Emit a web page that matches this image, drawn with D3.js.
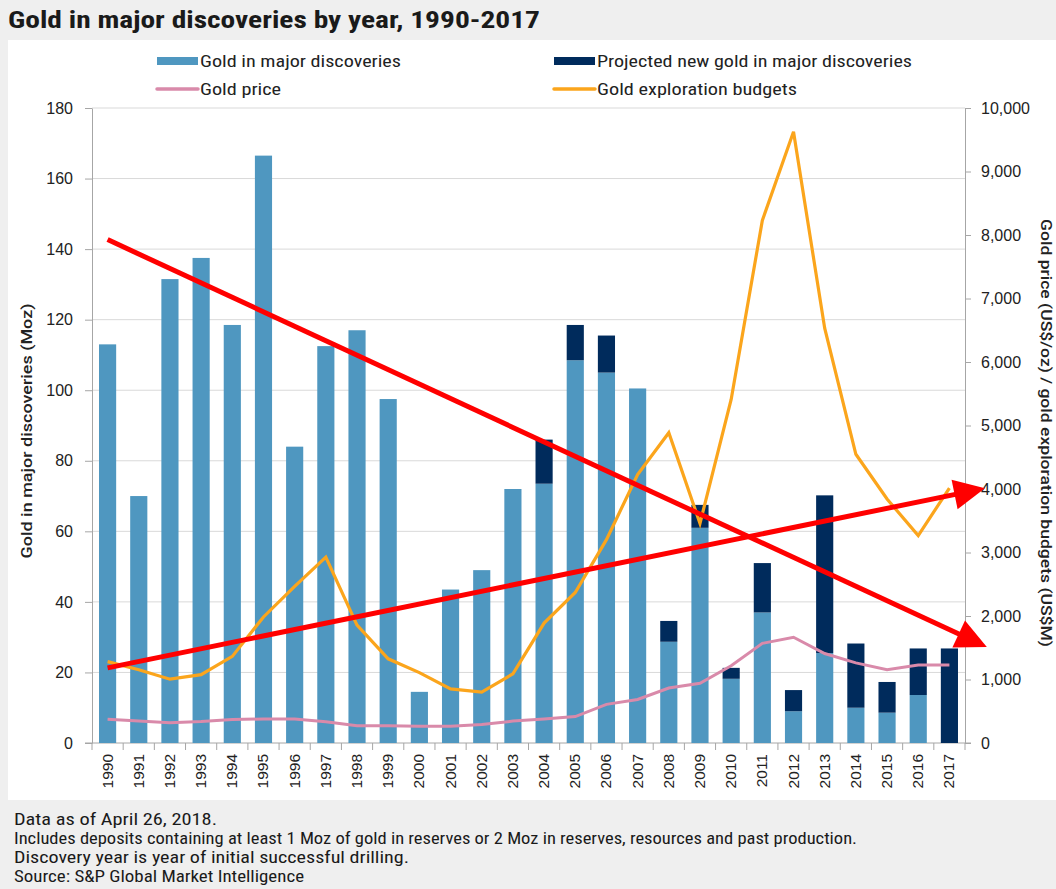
<!DOCTYPE html>
<html>
<head>
<meta charset="utf-8">
<script src="https://cdn.jsdelivr.net/npm/d3@7"></script>
<style>
  body { margin: 0; background: #efefef; }
  svg { display: block; }
</style>
</head>
<body>
<script>
// categories
const years = ["1990","1991","1992","1993","1994","1995","1996","1997","1998","1999",
  "2000","2001","2002","2003","2004","2005","2006","2007","2008","2009",
  "2010","2011","2012","2013","2014","2015","2016","2017"];

// Moz, left axis
const goldDiscovered = [113, 70, 131.5, 137.5, 118.5, 166.5, 84, 112.5, 117, 97.5,
  14.5, 43.5, 49, 72, 73.5, 108.5, 105, 100.5, 28.7, 61,
  18.2, 37, 9, 25.5, 10, 8.6, 13.6, 0];
const goldProjected = [0, 0, 0, 0, 0, 0, 0, 0, 0, 0,
  0, 0, 0, 0, 12.5, 10, 10.5, 0, 5.9, 6.5,
  3.1, 14, 6, 44.7, 18.2, 8.7, 13.2, 26.8];

// right axis
const goldPrice = [375, 345, 320, 340, 371, 378, 378, 335, 272, 270,
  265, 265, 290, 345, 378, 416, 608, 685, 865, 941,
  1217, 1569, 1665, 1409, 1262, 1153, 1230, 1230];
const explorationBudget = [1281, 1153, 1005, 1076, 1364, 1985, 2466, 2927, 1857, 1326,
  1108, 852, 801, 1089, 1889, 2370, 3202, 4227, 4886, 3458,
  5411, 8229, 9625, 6532, 4547, 3842, 3266, 4015];

const leftTicks = [0, 20, 40, 60, 80, 100, 120, 140, 160, 180];
const rightTicks = [0, 1000, 2000, 3000, 4000, 5000, 6000, 7000, 8000, 9000, 10000];

// red annotation arrows, in (year, Moz) units
const arrowDown = [{ year: 1990, moz: 142.7 }, { year: 2018.2, moz: 27.2 }];
const arrowUp = [{ year: 1990, moz: 21.3 }, { year: 2018.14, moz: 72.2 }];

const footNotes = [
  { text: "Data as of April 26, 2018.", w: 203 },
  { text: "Includes deposits containing at least 1 Moz of gold in reserves or 2 Moz in reserves, resources and past production.", w: 843 },
  { text: "Discovery year is year of initial successful drilling.", w: 395 },
  { text: "Source: S&P Global Market Intelligence", w: 290 }
];

const width = 1056, height = 889;
const margin = { top: 108, right: 91, bottom: 146, left: 92 };

const colLight = "#4f97c0", colDark = "#002b5c", colPink = "#d98aaa", colOrange = "#fba51c";
const condensed = "'Liberation Sans Narrow', 'Roboto Condensed', 'Roboto', sans-serif";
const plain = "'Liberation Sans', Arial, sans-serif";

const svg = d3.select("body").append("svg")
    .attr("width", width)
    .attr("height", height);

svg.append("rect").attr("width", width).attr("height", height).attr("fill", "#efefef");
svg.append("rect").attr("x", 8).attr("y", 40).attr("width", width - 8).attr("height", 760).attr("fill", "#fff");

// title
svg.append("text")
    .attr("x", 8).attr("y", 28)
    .attr("font-family", condensed).attr("font-size", 23).attr("font-weight", "bold")
    .attr("fill", "#1a1a1a")
    .attr("textLength", 532).attr("lengthAdjust", "spacingAndGlyphs")
    .text("Gold in major discoveries by year, 1990-2017");

const x = d3.scaleBand()
    .domain(years)
    .range([margin.left, width - margin.right])
    .paddingInner(0.45)
    .paddingOuter(0.225);

const yL = d3.scaleLinear().domain([0, 180]).range([height - margin.bottom, margin.top]);
const yR = d3.scaleLinear().domain([0, 10000]).range([height - margin.bottom, margin.top]);

const xYear = d3.scaleLinear()
    .domain([1990, 2017])
    .range([x("1990") + x.bandwidth() / 2, x("2017") + x.bandwidth() / 2]);

// grid
svg.append("g")
    .selectAll("line")
    .data(leftTicks.filter(d => d > 0))
    .join("line")
    .attr("x1", margin.left).attr("x2", width - margin.right)
    .attr("y1", d => yL(d)).attr("y2", d => yL(d))
    .attr("stroke", "#d9d9d9").attr("stroke-width", 1);

// axes
const leftAxis = svg.append("g")
    .attr("transform", `translate(${margin.left},0)`)
    .call(d3.axisLeft(yL).tickValues(leftTicks).tickSize(7).tickSizeOuter(0).tickPadding(12));
const rightAxis = svg.append("g")
    .attr("transform", `translate(${width - margin.right},0)`)
    .call(d3.axisRight(yR).tickValues(rightTicks).tickSize(6).tickSizeOuter(0).tickPadding(10)
        .tickFormat(d3.format(",")));

[leftAxis, rightAxis].forEach(a => {
    a.select(".domain").attr("stroke", "#a6a6a6");
    a.selectAll(".tick line").attr("stroke", "#a6a6a6");
    a.selectAll(".tick text").attr("font-family", plain).attr("font-size", 16).attr("fill", "#222");
});

// bottom axis with boundary ticks
const bottom = svg.append("g");
const step = x.step();
const edges = years.map(d => x(d) - (step - x.bandwidth()) / 2).concat([width - margin.right]);
bottom.append("line")
    .attr("x1", margin.left - 7).attr("x2", width - margin.right + 6)
    .attr("y1", yL(0)).attr("y2", yL(0))
    .attr("stroke", "#a6a6a6");
bottom.selectAll("line.edge")
    .data(edges)
    .join("line")
    .attr("class", "edge")
    .attr("x1", d => d).attr("x2", d => d)
    .attr("y1", yL(0)).attr("y2", yL(0) + 7)
    .attr("stroke", "#a6a6a6");
bottom.selectAll("text")
    .data(years)
    .join("text")
    .attr("transform", d => `translate(${x(d) + x.bandwidth() / 2 + 5},${yL(0) + 11}) rotate(-90)`)
    .attr("text-anchor", "end")
    .attr("font-family", plain).attr("font-size", 15.5).attr("fill", "#222")
    .text(d => d);

// bars
svg.append("g")
    .selectAll("rect")
    .data(years)
    .join("rect")
    .attr("x", d => x(d))
    .attr("width", x.bandwidth())
    .attr("y", (d, i) => yL(goldDiscovered[i]))
    .attr("height", (d, i) => yL(0) - yL(goldDiscovered[i]))
    .attr("fill", colLight);

svg.append("g")
    .selectAll("rect")
    .data(years)
    .join("rect")
    .attr("x", d => x(d))
    .attr("width", x.bandwidth())
    .attr("y", (d, i) => yL(goldDiscovered[i] + goldProjected[i]))
    .attr("height", (d, i) => yL(goldDiscovered[i]) - yL(goldDiscovered[i] + goldProjected[i]))
    .attr("fill", colDark);

// lines
const lineR = d3.line()
    .x((d, i) => x(years[i]) + x.bandwidth() / 2)
    .y(d => yR(d));

svg.append("path")
    .datum(goldPrice)
    .attr("d", lineR)
    .attr("fill", "none").attr("stroke", colPink).attr("stroke-width", 3);

svg.append("path")
    .datum(explorationBudget)
    .attr("d", lineR)
    .attr("fill", "none").attr("stroke", colOrange).attr("stroke-width", 3.2);

// axis titles
svg.append("text")
    .attr("transform", `translate(32,431) rotate(-90)`)
    .attr("text-anchor", "middle")
    .attr("font-family", "Roboto, sans-serif").attr("font-size", 15).attr("font-weight", 500).attr("fill", "#222")
    .attr("textLength", 255).attr("lengthAdjust", "spacingAndGlyphs")
    .text("Gold in major discoveries (Moz)");

svg.append("text")
    .attr("transform", `translate(1041,433) rotate(90)`)
    .attr("text-anchor", "middle")
    .attr("font-family", "Roboto, sans-serif").attr("font-size", 15).attr("font-weight", 500).attr("fill", "#222")
    .attr("textLength", 428).attr("lengthAdjust", "spacingAndGlyphs")
    .text("Gold price (US$/oz) / gold exploration budgets (US$M)");

// legend
const legendItems = [
    { label: "Gold in major discoveries", type: "rect", color: colLight, col: 0, row: 0, w: 201 },
    { label: "Projected new gold in major discoveries", type: "rect", color: colDark, col: 1, row: 0, w: 315 },
    { label: "Gold price", type: "line", color: colPink, col: 0, row: 1, w: 81 },
    { label: "Gold exploration budgets", type: "line", color: colOrange, col: 1, row: 1, w: 200 }
];
const legend = svg.append("g")
    .selectAll("g")
    .data(legendItems)
    .join("g")
    .attr("transform", d => `translate(${d.col ? 554 : 157},${d.row ? 89 : 61})`);
legend.filter(d => d.type === "rect").append("rect")
    .attr("x", 0).attr("y", -4).attr("width", 41).attr("height", 8)
    .attr("fill", d => d.color);
legend.filter(d => d.type === "line").append("line")
    .attr("x1", 0).attr("x2", 41).attr("y1", 0).attr("y2", 0)
    .attr("stroke", d => d.color).attr("stroke-width", 3.5).attr("stroke-linecap", "round");
legend.append("text")
    .attr("x", 43).attr("y", 5.5)
    .attr("font-family", condensed).attr("font-size", 16).attr("fill", "#222")
    .attr("textLength", d => d.w).attr("lengthAdjust", "spacingAndGlyphs")
    .text(d => d.label);

// red arrows
function drawArrow(pts) {
    const p0 = [xYear(pts[0].year), yL(pts[0].moz)];
    const p1 = [xYear(pts[1].year), yL(pts[1].moz)];
    const dx = p1[0] - p0[0], dy = p1[1] - p0[1];
    const len = Math.hypot(dx, dy);
    const ux = dx / len, uy = dy / len;
    const headLen = 31, headHalf = 15;
    const base = [p1[0] - ux * headLen, p1[1] - uy * headLen];
    svg.append("line")
        .attr("x1", p0[0]).attr("y1", p0[1])
        .attr("x2", base[0] + ux * 2).attr("y2", base[1] + uy * 2)
        .attr("stroke", "#ff0000").attr("stroke-width", 5);
    svg.append("path")
        .attr("d", d3.line()([
            p1,
            [base[0] - uy * headHalf, base[1] + ux * headHalf],
            [base[0] + uy * headHalf, base[1] - ux * headHalf]
        ]) + "Z")
        .attr("fill", "#ff0000");
}
drawArrow(arrowDown);
drawArrow(arrowUp);

// footnotes
svg.append("g")
    .selectAll("text")
    .data(footNotes)
    .join("text")
    .attr("x", 14)
    .attr("y", (d, i) => 825 + i * 19)
    .attr("font-family", condensed).attr("font-size", 16).attr("fill", "#1a1a1a")
    .attr("textLength", d => d.w).attr("lengthAdjust", "spacingAndGlyphs")
    .text(d => d.text);
</script>
</body>
</html>
